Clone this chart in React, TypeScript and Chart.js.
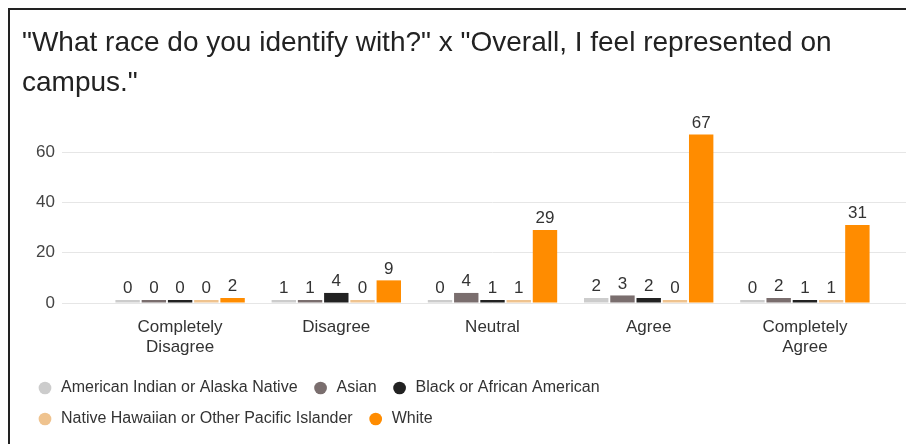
import React, { useEffect, useRef } from "react";
import { Chart, registerables } from "chart.js";

Chart.register(...registerables);

const titleLines = ['"What race do you identify with?" x "Overall, I feel represented on', 'campus."'];
const categories = [["Completely", "Disagree"], "Disagree", "Neutral", "Agree", ["Completely", "Agree"]];
const seriesNames = [
  "American Indian or Alaska Native",
  "Asian",
  "Black or African American",
  "Native Hawaiian or Other Pacific Islander",
  "White",
];
const americanIndian = [0, 1, 0, 2, 0];
const asian = [0, 1, 4, 3, 2];
const black = [0, 4, 1, 2, 1];
const hawaiian = [0, 0, 1, 0, 1];
const white = [2, 9, 29, 67, 31];
const seriesColors = ["#cccccc", "#7a6e6e", "#222222", "#efc38f", "#ff8c00"];
const yMax = 70;
const yStep = 20;

const FONT = "Arial, 'Liberation Sans', sans-serif";

const dataLabels = {
  id: "dataLabels",
  afterDatasetsDraw(chart: any) {
    const ctx = chart.ctx;
    ctx.save();
    ctx.font = `17px ${FONT}`;
    ctx.fillStyle = "#333333";
    ctx.textAlign = "center";
    ctx.textBaseline = "bottom";
    chart.data.datasets.forEach((ds: any, i: number) => {
      const meta = chart.getDatasetMeta(i);
      meta.data.forEach((el: any, j: number) => {
        const top = Math.min(el.y, el.base);
        ctx.fillText(String(ds.data[j]), el.x, top - 3);
      });
    });
    ctx.restore();
  },
};

const filterTicks = (axis: any) => {
  axis.ticks = axis.ticks.filter((t: any) => t.value % yStep === 0);
};

export default function App() {
  const ref = useRef<HTMLCanvasElement | null>(null);
  useEffect(() => {
    document.documentElement.style.overflow = "hidden";
    document.body.style.overflow = "hidden";
    const values = [americanIndian, asian, black, hawaiian, white];
    const chart = new Chart(ref.current as HTMLCanvasElement, {
      type: "bar",
      data: {
        labels: categories as any,
        datasets: seriesNames.map((name, i) => ({
          label: name,
          data: values[i],
          backgroundColor: seriesColors[i],
          borderWidth: 0,
          minBarLength: 3,
          barPercentage: 0.93,
          categoryPercentage: 0.84,
          yAxisID: "y",
        })),
      },
      options: {
        animation: false,
        responsive: false,
        maintainAspectRatio: false,
        devicePixelRatio: 1,
        layout: { padding: { left: 12, right: 0, top: 0, bottom: 7 } },
        plugins: {
          title: {
            display: true,
            text: titleLines,
            align: "start",
            color: "#222222",
            font: { family: FONT, size: 28, weight: "normal", lineHeight: 1.41 },
            padding: { top: 14, bottom: 24 },
          },
          legend: {
            position: "bottom",
            align: "start",
            labels: {
              usePointStyle: true,
              pointStyle: "circle",
              boxWidth: 16,
              boxHeight: 9,
              padding: 15,
              color: "#333333",
              font: { family: FONT, size: 16 },
            },
          },
          tooltip: { enabled: false },
        },
        scales: {
          x: {
            grid: { display: false, drawTicks: false },
            border: { display: false },
            ticks: {
              color: "#333333",
              font: { family: FONT, size: 17, lineHeight: 1.15 },
              padding: 15,
              maxRotation: 0,
            },
            afterFit: (s: any) => {
              s.height = 62;
            },
          },
          y: {
            min: 0,
            max: yMax,
            afterBuildTicks: filterTicks,
            grid: { color: "#e6e6e6", tickColor: "#e6e6e6", tickLength: 40, lineWidth: 1 },
            border: { display: false },
            ticks: {
              stepSize: yStep,
              color: "#444444",
              font: { family: FONT, size: 17 },
              padding: 7,
            },
            afterFit: (s: any) => {
              s.width = 80;
            },
          },
          y2: {
            position: "right",
            min: 0,
            max: yMax,
            afterBuildTicks: filterTicks,
            grid: { drawOnChartArea: false, tickColor: "#e6e6e6", tickLength: 23 },
            border: { display: false },
            ticks: { display: false, stepSize: yStep },
            afterFit: (s: any) => {
              s.width = 23;
            },
          },
        },
      },
      plugins: [dataLabels],
    });
    return () => chart.destroy();
  }, []);

  return (
    <div
      style={{
        position: "absolute",
        left: 8,
        top: 8,
        width: 896,
        height: 436,
        borderTop: "2px solid #222",
        borderLeft: "2px solid #222",
        overflow: "hidden",
        background: "#fff",
      }}
    >
      <canvas ref={ref} width={896} height={434} style={{ display: "block", width: 896, height: 434 }} />
    </div>
  );
}
